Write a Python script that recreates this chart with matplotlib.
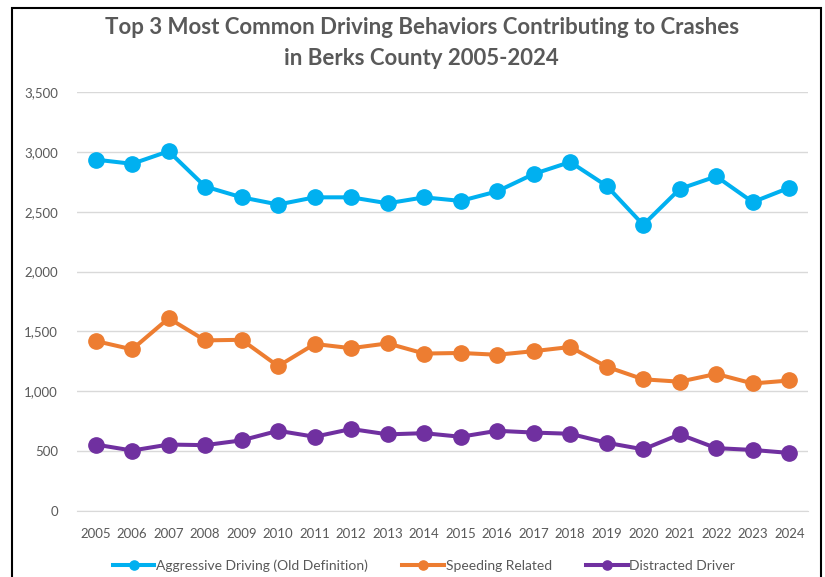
import matplotlib.pyplot as plt
from matplotlib.patches import Rectangle
from matplotlib.ticker import FuncFormatter

# data
years = [str(y) for y in range(2005, 2025)]
aggressive = [2935, 2900, 3005, 2710, 2620, 2560, 2620, 2620, 2570, 2620,
              2590, 2670, 2815, 2915, 2715, 2390, 2690, 2795, 2580, 2700]
speeding = [1420, 1350, 1610, 1425, 1430, 1210, 1395, 1360, 1400, 1315,
            1320, 1305, 1335, 1370, 1205, 1100, 1080, 1145, 1065, 1090]
distracted = [555, 505, 555, 550, 590, 670, 620, 685, 640, 650,
              620, 670, 655, 645, 570, 515, 640, 525, 510, 485]
series_names = ["Aggressive Driving (Old Definition)", "Speeding Related", "Distracted Driver"]
colors = ["#00B0F0", "#ED7D31", "#7030A0"]

plt.rcParams['font.family'] = ['Lato', 'DejaVu Sans']
text_gray = "#595959"

fig = plt.figure(figsize=(8.25, 5.77), dpi=100)
ax = fig.add_axes([0.0938, 0.1144, 0.885, 0.7262])

x = list(range(len(years)))
for vals, name, c in zip([aggressive, speeding, distracted], series_names, colors):
    ax.plot(x, vals, color=c, lw=2.9, marker='o', markersize=11, label=name)

ax.set_xlim(-0.5, len(years) - 0.5)
ax.set_ylim(0, 3500)
ax.set_yticks(range(0, 3501, 500))
ax.yaxis.set_major_formatter(FuncFormatter(lambda v, p: f"{int(v):,}"))
ax.set_xticks(x)
ax.set_xticklabels(years)
ax.grid(axis='y', color='#D9D9D9', lw=1)
ax.set_axisbelow(True)
for s in ['top', 'right', 'left']:
    ax.spines[s].set_visible(False)
ax.spines['bottom'].set_color('#D9D9D9')
ax.tick_params(length=0, colors=text_gray, labelsize=9.5)
ax.tick_params(axis='x', pad=12)
ax.tick_params(axis='y', pad=14)

fig.text(0.511, 0.953, "Top 3 Most Common Driving Behaviors Contributing to Crashes",
         ha='center', va='center', fontsize=16, fontweight='bold', color=text_gray)
fig.text(0.511, 0.898, "in Berks County 2005-2024",
         ha='center', va='center', fontsize=16, fontweight='bold', color=text_gray)

fig.legend(loc='center', bbox_to_anchor=(0.514, 0.019), ncol=3, frameon=False,
           fontsize=10, labelcolor=text_gray, handlelength=3, handletextpad=0.1,
           columnspacing=2.5, markerscale=0.6)

# chart frame (bottom edge runs off the image)
fig.patches.append(Rectangle((0.0145, -0.05), 0.995 - 0.0145, 0.986 + 0.05,
                             transform=fig.transFigure, fill=False,
                             edgecolor='black', lw=1.5))

fig.savefig("out.png", dpi=100)
